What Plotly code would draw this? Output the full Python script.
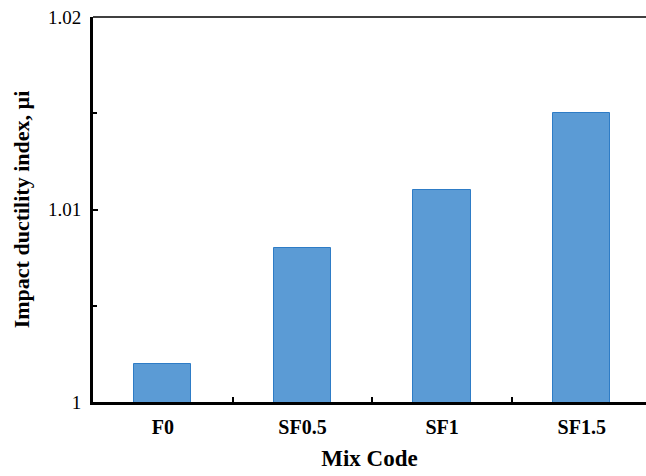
import plotly.graph_objects as go

# Mix codes and their impact ductility index
mix_codes = ["F0", "SF0.5", "SF1", "SF1.5"]
ductility_index = [1.002, 1.008, 1.011, 1.015]
y_tick_values = [1, 1.01, 1.02]
y_tick_labels = ["1", "1.01", "1.02"]

serif = "Liberation Serif, Times New Roman, serif"

fig = go.Figure(
    go.Bar(
        x=mix_codes,
        y=ductility_index,
        width=0.41,
        marker=dict(color="#5B9BD5", line=dict(color="#2E7CC6", width=1)),
    )
)

fig.update_layout(
    width=646,
    height=476,
    margin=dict(l=93, r=0, t=17, b=74),
    plot_bgcolor="white",
    paper_bgcolor="white",
    showlegend=False,
    font=dict(family=serif, color="black"),
    bargap=0,
)

fig.update_xaxes(
    range=[-0.5, 3.46],
    showline=True,
    linecolor="black",
    linewidth=3,
    ticks="inside",
    tickson="boundaries",
    ticklen=5,
    tickwidth=1.5,
    tickcolor="black",
    showgrid=False,
    ticklabelstandoff=5,
    tickfont=dict(family=serif, size=20, color="black", weight="bold"),
    title=dict(text="Mix Code", font=dict(family=serif, size=23, weight="bold"), standoff=13),
)

fig.update_yaxes(
    range=[1, 1.02],
    tickvals=y_tick_values,
    ticktext=y_tick_labels,
    showline=True,
    linecolor="black",
    linewidth=3,
    ticks="inside",
    ticklen=5,
    tickwidth=2,
    tickcolor="black",
    minor=dict(tickvals=[1.005, 1.015], ticks="inside", ticklen=4, tickwidth=1.5, tickcolor="black"),
    showgrid=False,
    zeroline=False,
    ticklabelstandoff=5,
    tickfont=dict(family=serif, size=19, color="black"),
    title=dict(text="Impact ductility index, µi", font=dict(family=serif, size=22, weight="bold"), standoff=13),
)

# thin frame line along the top of the plot area
fig.add_shape(type="line", xref="paper", yref="paper", x0=0, x1=1, y0=1, y1=1,
              line=dict(color="black", width=1.5))

fig.write_html("out.html")
